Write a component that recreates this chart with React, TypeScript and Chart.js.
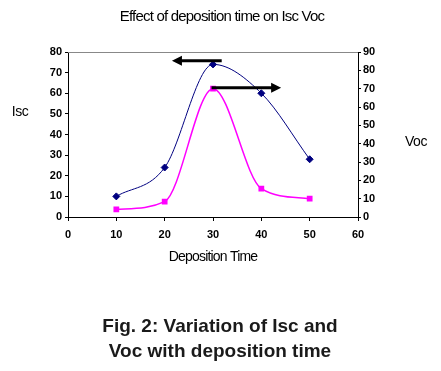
import React, { useEffect, useRef } from "react";
import { Chart, registerables } from "chart.js";

Chart.register(...registerables);

const depositionTime = [10, 20, 30, 40, 50];
const iscValues = [10, 24, 74, 60, 28];
const vocValues = [4.2, 8.4, 70, 15.5, 10];
const xTicks = [0, 10, 20, 30, 40, 50, 60];
const leftTicks = [0, 10, 20, 30, 40, 50, 60, 70, 80];
const rightTicks = [0, 10, 20, 30, 40, 50, 60, 70, 80, 90];
// arrows in data coordinates
const arrowIsc = { from: 31.8, to: 21.5, y: 75.8 };
const arrowVoc = { from: 29.7, to: 44.1, y: 70.5 };

const chartTitle = "Effect of deposition time on Isc Voc";
const xTitle = "Deposition Time";
const leftTitle = "Isc";
const rightTitle = "Voc";
const caption = ["Fig. 2: Variation of Isc and", "Voc with deposition time"];

const FONT = "'Liberation Sans', Arial, sans-serif";

export default function App() {
  const ref = useRef<HTMLCanvasElement | null>(null);
  useEffect(() => {
    if (!ref.current) return;
    const drawArrow = (ctx: CanvasRenderingContext2D, x1: number, x2: number, y: number) => {
      const dir = x2 > x1 ? 1 : -1;
      ctx.save();
      ctx.strokeStyle = "#000";
      ctx.fillStyle = "#000";
      ctx.lineWidth = 3;
      ctx.beginPath();
      ctx.moveTo(x1, y);
      ctx.lineTo(x2 - dir * 8, y);
      ctx.stroke();
      ctx.beginPath();
      ctx.moveTo(x2, y);
      ctx.lineTo(x2 - dir * 10, y - 5);
      ctx.lineTo(x2 - dir * 10, y + 5);
      ctx.closePath();
      ctx.fill();
      ctx.restore();
    };
    const textPlugin = {
      id: "texts",
      afterDatasetsDraw(chart: any) {
        const ctx = chart.ctx as CanvasRenderingContext2D;
        const sx = chart.scales.x, sy = chart.scales.y, sy1 = chart.scales.y1;
        drawArrow(ctx, sx.getPixelForValue(arrowIsc.from), sx.getPixelForValue(arrowIsc.to), sy.getPixelForValue(arrowIsc.y));
        drawArrow(ctx, sx.getPixelForValue(arrowVoc.from), sx.getPixelForValue(arrowVoc.to), sy1.getPixelForValue(arrowVoc.y));
      },
      afterDraw(chart: any) {
        const ctx = chart.ctx as CanvasRenderingContext2D;
        const area = chart.chartArea;
        ctx.save();
        ctx.fillStyle = "#000";
        ctx.textBaseline = "middle";
        ctx.textAlign = "center";
        (ctx as any).letterSpacing = "-0.8px";
        ctx.font = `15px ${FONT}`;
        ctx.fillText(chartTitle, 222, 17);
        ctx.font = `14px ${FONT}`;
        ctx.fillText(xTitle, (area.left + area.right) / 2, 257);
        (ctx as any).letterSpacing = "-0.4px";
        ctx.fillText(leftTitle, 20, 112);
        ctx.fillText(rightTitle, 416, 142);
        (ctx as any).letterSpacing = "0px";
        ctx.fillStyle = "#1a1a1a";
        ctx.font = `bold 19px ${FONT}`;
        ctx.fillText(caption[0], 220, 327);
        ctx.fillText(caption[1], 220, 352);
        ctx.restore();
      },
    };
    const tickFont = { family: FONT, size: 11, weight: "bold" as const };
    const chart = new Chart(ref.current, {
      type: "line",
      data: {
        datasets: [
          {
            label: "Isc",
            data: depositionTime.map((t, i) => ({ x: t, y: iscValues[i] })),
            borderColor: "#000080",
            backgroundColor: "#000080",
            borderWidth: 1,
            pointStyle: "rectRot",
            pointRadius: 3.5,
            cubicInterpolationMode: "monotone",
            yAxisID: "y",
          },
          {
            label: "Voc",
            data: depositionTime.map((t, i) => ({ x: t, y: vocValues[i] })),
            borderColor: "#FF00FF",
            backgroundColor: "#FF00FF",
            borderWidth: 1.5,
            pointStyle: "rect",
            pointRadius: 3,
            cubicInterpolationMode: "monotone",
            yAxisID: "y1",
          },
        ],
      },
      options: {
        animation: false,
        responsive: false,
        maintainAspectRatio: false,
        layout: { padding: { top: 52, left: 0, right: 0, bottom: 0 } },
        plugins: { legend: { display: false }, tooltip: { enabled: false }, title: { display: false } },
        scales: {
          x: {
            type: "linear",
            min: 0,
            max: 60,
            afterBuildTicks: (s: any) => { s.ticks = xTicks.map((v) => ({ value: v })); },
            afterFit: (s: any) => { s.height = 154; },
            grid: { display: true, drawOnChartArea: false, drawTicks: true, tickLength: 4, color: "#000" },
            border: { display: true, color: "#000", width: 1 },
            ticks: { font: tickFont, color: "#000", padding: 7, maxRotation: 0 },
          },
          y: {
            position: "left",
            min: 0,
            max: 80,
            afterBuildTicks: (s: any) => { s.ticks = leftTicks.map((v) => ({ value: v })); },
            afterFit: (s: any) => { s.width = 68; },
            grid: { display: true, drawOnChartArea: false, drawTicks: true, tickLength: 3, color: "#000" },
            border: { display: true, color: "#000", width: 1 },
            ticks: { font: tickFont, color: "#000", padding: 3 },
          },
          y1: {
            position: "right",
            min: 0,
            max: 90,
            afterBuildTicks: (s: any) => { s.ticks = rightTicks.map((v) => ({ value: v })); },
            afterFit: (s: any) => { s.width = 83; },
            grid: { display: true, drawOnChartArea: false, drawTicks: true, tickLength: 3, color: "#000" },
            border: { display: true, color: "#000", width: 1 },
            ticks: { font: tickFont, color: "#000", padding: 2 },
          },
        },
      },
      plugins: [
        {
          id: "topBorder",
          beforeDatasetsDraw(chart: any) {
            const { ctx, chartArea } = chart;
            ctx.save();
            ctx.strokeStyle = "#888";
            ctx.lineWidth = 1;
            ctx.beginPath();
            ctx.moveTo(chartArea.left, chartArea.top + 0.5);
            ctx.lineTo(chartArea.right, chartArea.top + 0.5);
            ctx.stroke();
            ctx.restore();
          },
        },
        textPlugin,
      ],
    } as any);
    return () => chart.destroy();
  }, []);
  return (
    <div style={{ position: "fixed", left: 0, top: 0, width: 441, height: 371, background: "#fff" }}>
      <canvas ref={ref} width={441} height={371} style={{ width: 441, height: 371, display: "block" }} />
    </div>
  );
}
